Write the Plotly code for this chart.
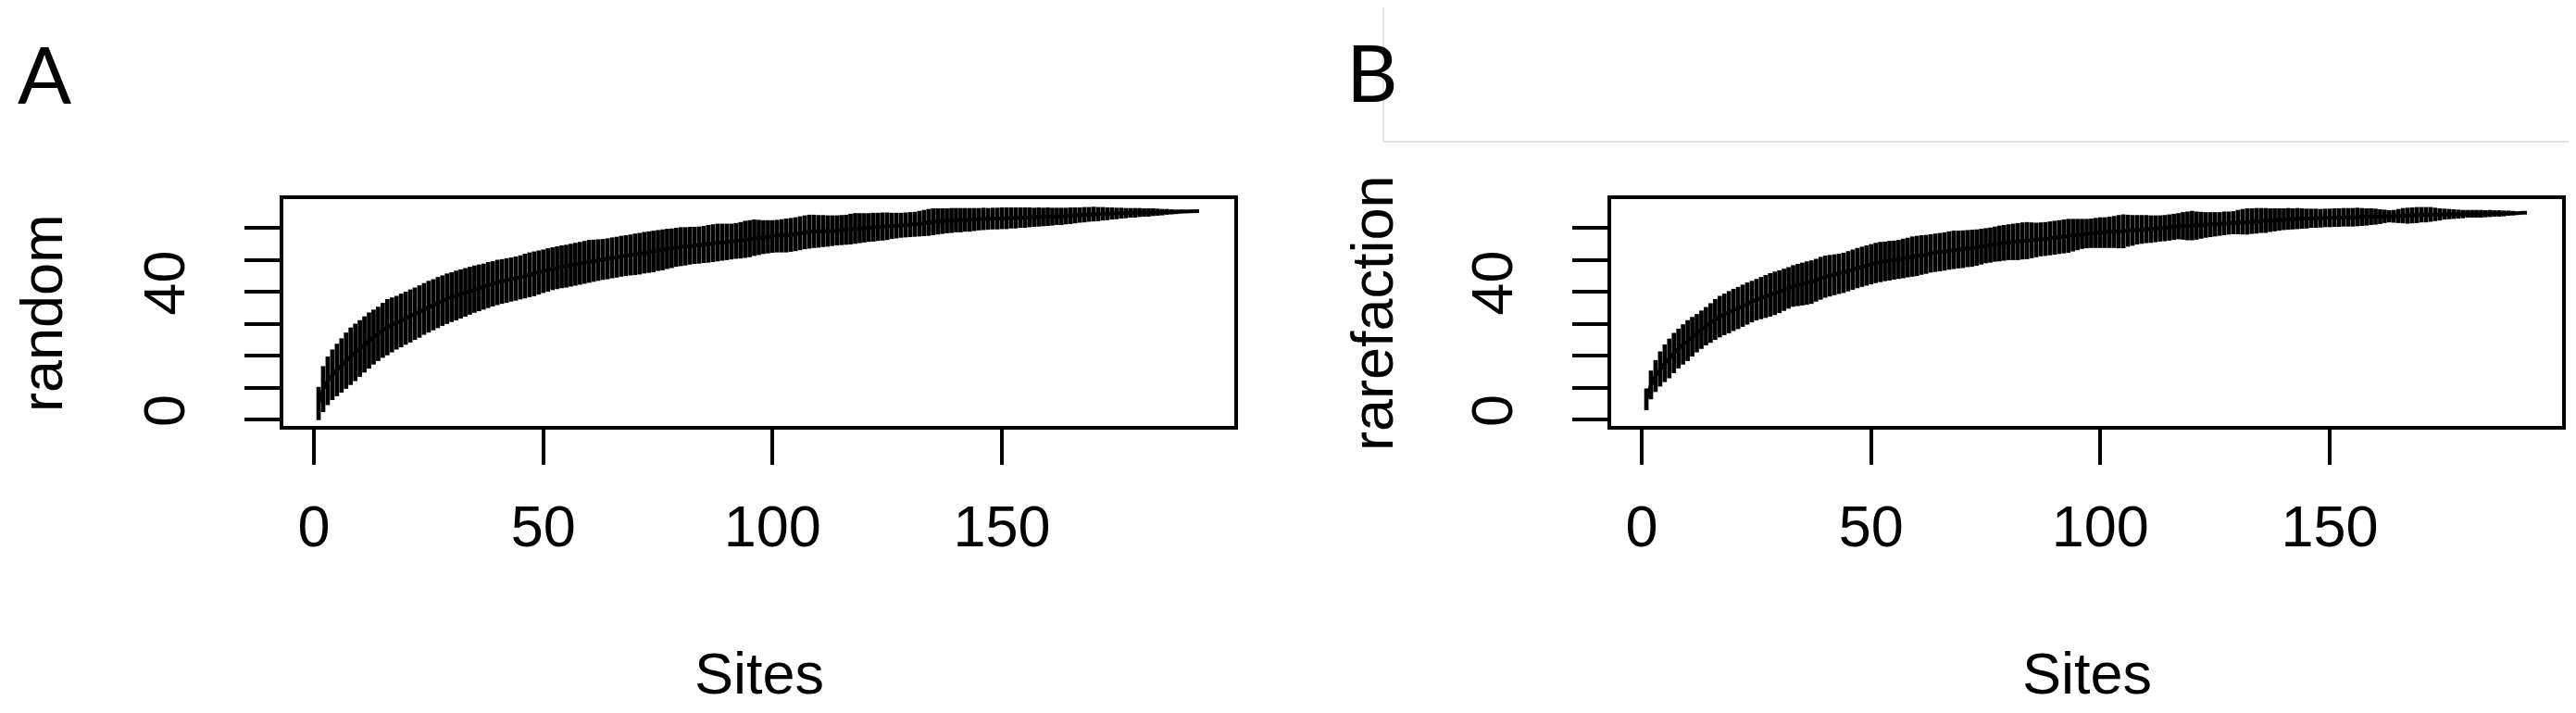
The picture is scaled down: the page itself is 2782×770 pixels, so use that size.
import plotly.graph_objects as go

# ---------------- data ----------------
sites = list(range(1, 194))

random_mean = [
    5.0, 9.5, 12.1, 14.0, 15.5, 16.9, 18.4, 19.8, 21.0, 22.2,
    23.5, 24.7, 25.8, 26.8, 27.9, 28.9, 29.6, 30.3, 31.0, 31.7,
    32.4, 33.1, 33.8, 34.6, 35.3, 35.9, 36.6, 37.2, 37.8, 38.3,
    38.8, 39.3, 39.8, 40.3, 40.8, 41.2, 41.6, 42.1, 42.5, 42.9,
    43.2, 43.5, 43.8, 44.1, 44.5, 44.9, 45.3, 45.6, 46.0, 46.4,
    46.8, 47.2, 47.5, 47.8, 48.0, 48.3, 48.6, 48.9, 49.2, 49.5,
    49.7, 49.9, 50.1, 50.3, 50.6, 50.8, 51.1, 51.3, 51.5, 51.7,
    51.9, 52.2, 52.4, 52.6, 52.9, 53.1, 53.4, 53.6, 53.9, 54.1,
    54.2, 54.4, 54.5, 54.6, 54.8, 55.0, 55.2, 55.4, 55.5, 55.6,
    55.7, 55.9, 56.1, 56.4, 56.6, 56.9, 57.0, 57.1, 57.2, 57.3,
    57.4, 57.5, 57.6, 57.8, 58.0, 58.3, 58.6, 58.8, 58.9, 58.9,
    59.0, 59.0, 59.1, 59.2, 59.3, 59.4, 59.6, 59.8, 59.9, 60.0,
    60.1, 60.2, 60.3, 60.4, 60.5, 60.6, 60.7, 60.8, 60.9, 61.0,
    61.1, 61.3, 61.5, 61.7, 61.9, 62.0, 62.1, 62.2, 62.3, 62.4,
    62.4, 62.5, 62.5, 62.6, 62.7, 62.8, 62.8, 62.9, 62.9, 63.0,
    63.0, 63.1, 63.1, 63.2, 63.2, 63.3, 63.3, 63.4, 63.4, 63.5,
    63.5, 63.6, 63.6, 63.7, 63.8, 63.9, 64.0, 64.1, 64.2, 64.3,
    64.3, 64.4, 64.4, 64.5, 64.5, 64.6, 64.6, 64.7, 64.7, 64.8,
    64.8, 64.8, 64.9, 64.9, 64.9, 65.0, 65.0, 65.0, 65.1, 65.1,
    65.1, 65.2, 65.2,
]
random_ci = [
    5.2, 7.2, 7.6, 7.9, 8.2, 8.5, 8.8, 9.0, 9.0, 8.9,
    8.8, 8.8, 8.6, 8.5, 8.6, 8.8, 8.6, 8.4, 8.4, 8.3,
    8.3, 8.2, 8.2, 8.1, 8.1, 8.0, 8.0, 7.9, 7.9, 7.8,
    7.8, 7.7, 7.6, 7.5, 7.4, 7.3, 7.2, 7.2, 7.1, 7.1,
    7.0, 7.0, 6.9, 6.9, 6.9, 7.0, 7.0, 7.0, 6.9, 6.8,
    6.8, 6.7, 6.7, 6.7, 6.7, 6.7, 6.7, 6.7, 6.7, 6.7,
    6.6, 6.5, 6.4, 6.4, 6.4, 6.4, 6.4, 6.4, 6.4, 6.5,
    6.5, 6.5, 6.5, 6.5, 6.4, 6.4, 6.3, 6.2, 6.1, 6.1,
    6.0, 5.9, 5.8, 5.8, 5.8, 5.9, 5.9, 5.9, 5.8, 5.7,
    5.6, 5.6, 5.7, 5.8, 5.8, 5.7, 5.5, 5.3, 5.2, 5.1,
    5.1, 5.2, 5.3, 5.3, 5.3, 5.3, 5.3, 5.3, 5.2, 5.1,
    5.0, 4.9, 4.8, 4.7, 4.7, 4.7, 4.8, 4.8, 4.7, 4.6,
    4.5, 4.5, 4.4, 4.4, 4.3, 4.1, 4.0, 3.9, 3.9, 3.9,
    3.9, 4.0, 4.1, 4.2, 4.2, 4.1, 4.0, 3.9, 3.9, 3.8,
    3.8, 3.7, 3.7, 3.6, 3.5, 3.5, 3.4, 3.4, 3.4, 3.4,
    3.4, 3.3, 3.3, 3.2, 3.2, 3.1, 3.0, 3.0, 2.9, 2.9,
    2.8, 2.7, 2.7, 2.6, 2.6, 2.5, 2.4, 2.4, 2.3, 2.3,
    2.2, 2.1, 2.0, 1.9, 1.8, 1.7, 1.6, 1.5, 1.5, 1.4,
    1.3, 1.3, 1.2, 1.1, 1.0, 0.9, 0.8, 0.7, 0.6, 0.5,
    0.4, 0.2, 0.0,
]

rare_mean = [
    6.3, 10.8, 13.6, 15.8, 17.6, 19.1, 20.8, 22.2, 23.5, 24.7,
    25.9, 27.0, 28.1, 29.2, 30.2, 31.3, 32.2, 32.9, 33.6, 34.3,
    34.9, 35.6, 36.3, 36.9, 37.5, 38.0, 38.5, 39.0, 39.5, 40.0,
    40.6, 41.2, 41.8, 42.1, 42.4, 42.7, 43.0, 43.6, 44.2, 44.7,
    45.0, 45.3, 45.6, 45.9, 46.4, 46.9, 47.4, 47.8, 48.2, 48.6,
    49.0, 49.3, 49.5, 49.7, 49.9, 50.1, 50.4, 50.7, 51.0, 51.2,
    51.5, 51.7, 52.0, 52.2, 52.4, 52.6, 52.9, 53.1, 53.2, 53.3,
    53.5, 53.6, 53.8, 54.1, 54.4, 54.6, 54.9, 55.1, 55.3, 55.5,
    55.6, 55.7, 55.9, 56.0, 56.1, 56.2, 56.4, 56.5, 56.7, 56.9,
    57.1, 57.3, 57.5, 57.7, 57.9, 58.1, 58.2, 58.3, 58.4, 58.5,
    58.5, 58.6, 58.7, 58.8, 58.9, 59.1, 59.2, 59.4, 59.5, 59.6,
    59.6, 59.7, 59.8, 59.9, 60.1, 60.3, 60.5, 60.6, 60.6, 60.7,
    60.7, 60.8, 60.9, 61.0, 61.1, 61.2, 61.4, 61.5, 61.6, 61.8,
    61.9, 62.0, 62.1, 62.2, 62.3, 62.3, 62.4, 62.5, 62.6, 62.7,
    62.8, 62.8, 62.9, 62.9, 62.9, 63.0, 63.0, 63.0, 63.1, 63.1,
    63.2, 63.2, 63.3, 63.3, 63.3, 63.4, 63.4, 63.4, 63.5, 63.5,
    63.5, 63.6, 63.6, 63.6, 63.7, 63.8, 63.8, 63.9, 64.0, 64.1,
    64.1, 64.2, 64.2, 64.2, 64.3, 64.3, 64.3, 64.3, 64.3, 64.4,
    64.4, 64.4, 64.4, 64.4, 64.5, 64.5, 64.5, 64.5, 64.6, 64.6,
    64.6, 64.7, 64.7,
]
rare_ci = [
    3.4, 4.5, 5.0, 5.5, 5.9, 6.2, 6.3, 6.2, 6.3, 6.4,
    6.2, 6.0, 6.0, 6.0, 6.2, 6.4, 6.5, 6.5, 6.6, 6.6,
    6.6, 6.6, 6.6, 6.5, 6.5, 6.6, 6.7, 6.8, 6.8, 6.7,
    6.6, 6.5, 6.5, 6.6, 6.7, 6.8, 6.8, 6.7, 6.7, 6.6,
    6.5, 6.4, 6.3, 6.3, 6.3, 6.3, 6.3, 6.3, 6.3, 6.3,
    6.3, 6.3, 6.2, 6.2, 6.1, 6.1, 6.2, 6.2, 6.3, 6.3,
    6.2, 6.1, 6.0, 6.0, 6.0, 6.0, 6.0, 6.0, 5.9, 5.9,
    5.8, 5.8, 5.7, 5.6, 5.5, 5.5, 5.5, 5.6, 5.6, 5.6,
    5.7, 5.8, 5.8, 5.8, 5.6, 5.4, 5.3, 5.3, 5.3, 5.3,
    5.3, 5.3, 5.3, 5.1, 4.9, 4.7, 4.6, 4.6, 4.7, 4.8,
    4.8, 4.9, 5.0, 5.2, 5.3, 5.0, 4.8, 4.6, 4.5, 4.4,
    4.3, 4.2, 4.1, 4.1, 4.1, 4.1, 4.1, 4.3, 4.5, 4.6,
    4.4, 4.2, 4.0, 3.9, 3.8, 3.7, 3.7, 3.6, 3.6, 3.8,
    4.0, 4.1, 4.0, 4.0, 3.9, 3.9, 3.7, 3.6, 3.5, 3.4,
    3.4, 3.3, 3.3, 3.2, 3.1, 3.0, 3.0, 2.9, 2.9, 2.9,
    2.9, 2.9, 2.9, 2.9, 2.9, 2.9, 2.8, 2.7, 2.6, 2.5,
    2.3, 2.1, 1.9, 2.0, 2.2, 2.4, 2.5, 2.5, 2.5, 2.4,
    2.4, 2.3, 2.1, 1.9, 1.7, 1.6, 1.5, 1.4, 1.3, 1.2,
    1.2, 1.2, 1.2, 1.1, 1.1, 1.0, 1.0, 0.9, 0.8, 0.7,
    0.5, 0.3, 0.0,
]

x_ticks = [0, 50, 100, 150]
y_ticks = [0, 10, 20, 30, 40, 50, 60]
y_ticktext = ["0", "", "", "", "40", "", ""]
panel_letters = ["A", "B"]
y_titles = ["random", "rarefaction"]
x_title = "Sites"

# ---------------- figure ----------------
W, H = 2782, 770
FONT = "Liberation Sans, Arial, sans-serif"
FS = 63

fig = go.Figure()

panels = [
    dict(mean=random_mean, ci=random_ci, xa="x", ya="y"),
    dict(mean=rare_mean, ci=rare_ci, xa="x2", ya="y2"),
]
for p in panels:
    fig.add_trace(go.Scatter(
        x=sites, y=p["mean"], xaxis=p["xa"], yaxis=p["ya"],
        mode="lines", line=dict(color="black", width=4),
        error_y=dict(type="data", array=p["ci"], symmetric=True,
                     color="black", thickness=4.7, width=0),
        showlegend=False, hoverinfo="skip",
    ))

# pixel boxes of the two plot frames
boxes = [(298, 1325), (1732, 2759)]
y_top, y_bot = 207, 452
ydom = [(H - y_bot) / H, (H - y_top) / H]

common_x = dict(range=[-6.68, 200.68], tickvals=x_ticks, ticks="outside",
                ticklen=38, tickwidth=3.5, tickcolor="black",
                showline=True, mirror=True, linecolor="black", linewidth=4,
                showgrid=False, zeroline=False,
                tickfont=dict(family=FONT, size=FS, color="black"),
                ticklabelstandoff=12)
common_y = dict(range=[-2.03, 69.0], tickvals=y_ticks, ticktext=y_ticktext,
                tickmode="array", tickangle=-90, ticks="outside",
                ticklen=38, tickwidth=3.5, tickcolor="black",
                showline=True, mirror=True, linecolor="black", linewidth=4,
                showgrid=False, zeroline=False,
                tickfont=dict(family=FONT, size=FS, color="black"),
                ticklabelstandoff=40)

fig.update_layout(
    width=W, height=H, autosize=False,
    margin=dict(l=0, r=0, t=0, b=0),
    paper_bgcolor="white", plot_bgcolor="white",
    xaxis=dict(domain=[boxes[0][0] / W, boxes[0][1] / W], anchor="y", **common_x),
    yaxis=dict(domain=ydom, anchor="x", **common_y),
    xaxis2=dict(domain=[boxes[1][0] / W, boxes[1][1] / W], anchor="y2", **common_x),
    yaxis2=dict(domain=ydom, anchor="x2", **common_y),
)

# light grey frame line seen in panel B's header
fig.add_shape(type="line", xref="paper", yref="paper",
              x0=1486 / W, x1=1486 / W, y0=1, y1=(H - 145) / H,
              line=dict(color="#d9d9d9", width=1.5), layer="below")
fig.add_shape(type="line", xref="paper", yref="paper",
              x0=1486 / W, x1=1, y0=(H - 145) / H, y1=(H - 145) / H,
              line=dict(color="#d9d9d9", width=1.5), layer="below")

letter_pos = [(40, 70), (1474, 69)]
ytitle_x = [37, 1474]
for i in range(2):
    lx, ly = letter_pos[i]
    fig.add_annotation(text=panel_letters[i], xref="paper", yref="paper",
                       x=lx / W, y=(H - ly) / H, xanchor="center", yanchor="middle",
                       showarrow=False, font=dict(family="Lato, Open Sans, sans-serif",
                                                  size=86, color="black"))
    fig.add_annotation(text=y_titles[i], xref="paper", yref="paper",
                       x=ytitle_x[i] / W, y=(H - 330) / H, xanchor="center",
                       yanchor="middle", textangle=-90, showarrow=False,
                       font=dict(family=FONT, size=FS, color="black"))
    cx = (boxes[i][0] + boxes[i][1]) / 2
    fig.add_annotation(text=x_title, xref="paper", yref="paper",
                       x=cx / W, y=(H - 719) / H, xanchor="center", yanchor="middle",
                       showarrow=False, font=dict(family=FONT, size=FS, color="black"))

fig.write_html("out.html")
